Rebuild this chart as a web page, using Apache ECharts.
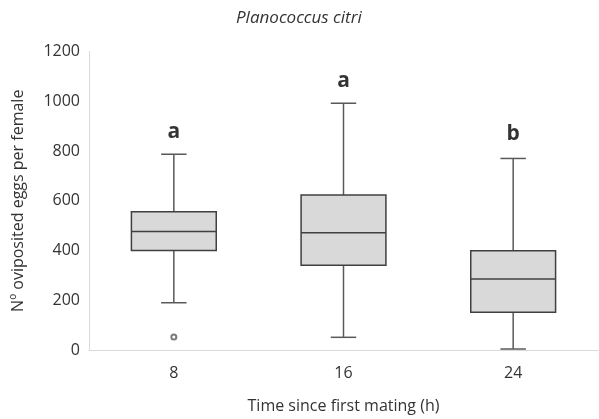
<!DOCTYPE html>
<html>
<head>
<meta charset="UTF-8">
<script src="https://cdn.jsdelivr.net/npm/echarts@6/dist/echarts.min.js"></script>
</head>
<body style="margin:0;background:#fff;">
<div id="main" style="width:599px;height:419px;"></div>
<script>
// categories (hours since first mating)
var hours = ['8', '16', '24'];
// box stats: [low whisker, Q1, median, Q3, high whisker]
var boxStats = [
  [190, 400, 476, 556, 787],
  [51, 341, 471, 623, 992],
  [4, 152, 285, 399, 770]
];
var outliers = [[0, 52]];
// significance letters and their heights
var letters = ['a', 'a', 'b'];
var letterY = [875, 1080, 867];

var chart = echarts.init(document.getElementById('main'));

var boxData = boxStats.map(function (s, i) { return [i].concat(s); });
var letterData = letters.map(function (l, i) { return [i, letterY[i], l]; });

chart.setOption({
  animation: false,
  title: {
    text: 'Planococcus citri',
    left: 231,
    top: 5,
    textStyle: { fontFamily: 'Open Sans', fontStyle: 'italic', fontWeight: 'normal', fontSize: 17, color: '#333' }
  },
  grid: { left: 89, right: 1, top: 51.5, bottom: 67 },
  xAxis: {
    type: 'category',
    data: hours,
    name: 'Time since first mating (h)',
    nameLocation: 'middle',
    nameGap: 48,
    nameTextStyle: { fontFamily: 'Open Sans', fontSize: 16, color: '#333' },
    axisLine: { lineStyle: { color: '#d9d9d9', width: 1 } },
    axisTick: { show: false },
    axisLabel: { fontFamily: 'Open Sans', fontSize: 16, color: '#333', margin: 15 }
  },
  yAxis: {
    type: 'value',
    min: 0, max: 1200, interval: 200,
    name: 'Nº oviposited eggs per female',
    nameLocation: 'middle',
    nameGap: 63,
    nameTextStyle: { fontFamily: 'Open Sans', fontSize: 16, color: '#333' },
    axisLine: { show: true, lineStyle: { color: '#d9d9d9', width: 1 } },
    axisTick: { show: false },
    splitLine: { show: false },
    axisLabel: { fontFamily: 'Open Sans', fontSize: 16, color: '#333', margin: 9,
      formatter: function (v) { return String(v); } }
  },
  series: [{
    type: 'custom',
    data: boxData,
    renderItem: function (params, api) {
      var x = api.value(0);
      var band = api.size([1, 0])[0];
      var bw = band * 0.5, cw = band * 0.15;
      var pLow = api.coord([x, api.value(1)]);
      var pQ1 = api.coord([x, api.value(2)]);
      var pMed = api.coord([x, api.value(3)]);
      var pQ3 = api.coord([x, api.value(4)]);
      var pHigh = api.coord([x, api.value(5)]);
      var cx = pLow[0];
      var line = { stroke: '#595959', lineWidth: 1.5 };
      return {
        type: 'group',
        children: [
          { type: 'line', shape: { x1: cx, y1: pLow[1], x2: cx, y2: pQ1[1] }, style: line },
          { type: 'line', shape: { x1: cx, y1: pQ3[1], x2: cx, y2: pHigh[1] }, style: line },
          { type: 'line', shape: { x1: cx - cw / 2, y1: pLow[1], x2: cx + cw / 2, y2: pLow[1] }, style: line },
          { type: 'line', shape: { x1: cx - cw / 2, y1: pHigh[1], x2: cx + cw / 2, y2: pHigh[1] }, style: line },
          { type: 'rect', shape: { x: cx - bw / 2, y: pQ3[1], width: bw, height: pQ1[1] - pQ3[1] },
            style: { fill: '#d9d9d9', stroke: '#404040', lineWidth: 1.5 } },
          { type: 'line', shape: { x1: cx - bw / 2, y1: pMed[1], x2: cx + bw / 2, y2: pMed[1] },
            style: { stroke: '#404040', lineWidth: 1.5 } }
        ]
      };
    }
  }, {
    type: 'scatter',
    data: outliers,
    symbol: 'emptyCircle',
    symbolSize: 5,
    itemStyle: { color: '#595959', borderColor: '#595959', borderWidth: 1.2 }
  }, {
    type: 'scatter',
    data: letterData,
    symbolSize: 0,
    label: {
      show: true,
      position: 'inside',
      formatter: function (p) { return p.value[2]; },
      fontFamily: 'Open Sans', fontWeight: 'bold', fontSize: 21, color: '#000'
    }
  }]
});
</script>
</body>
</html>
